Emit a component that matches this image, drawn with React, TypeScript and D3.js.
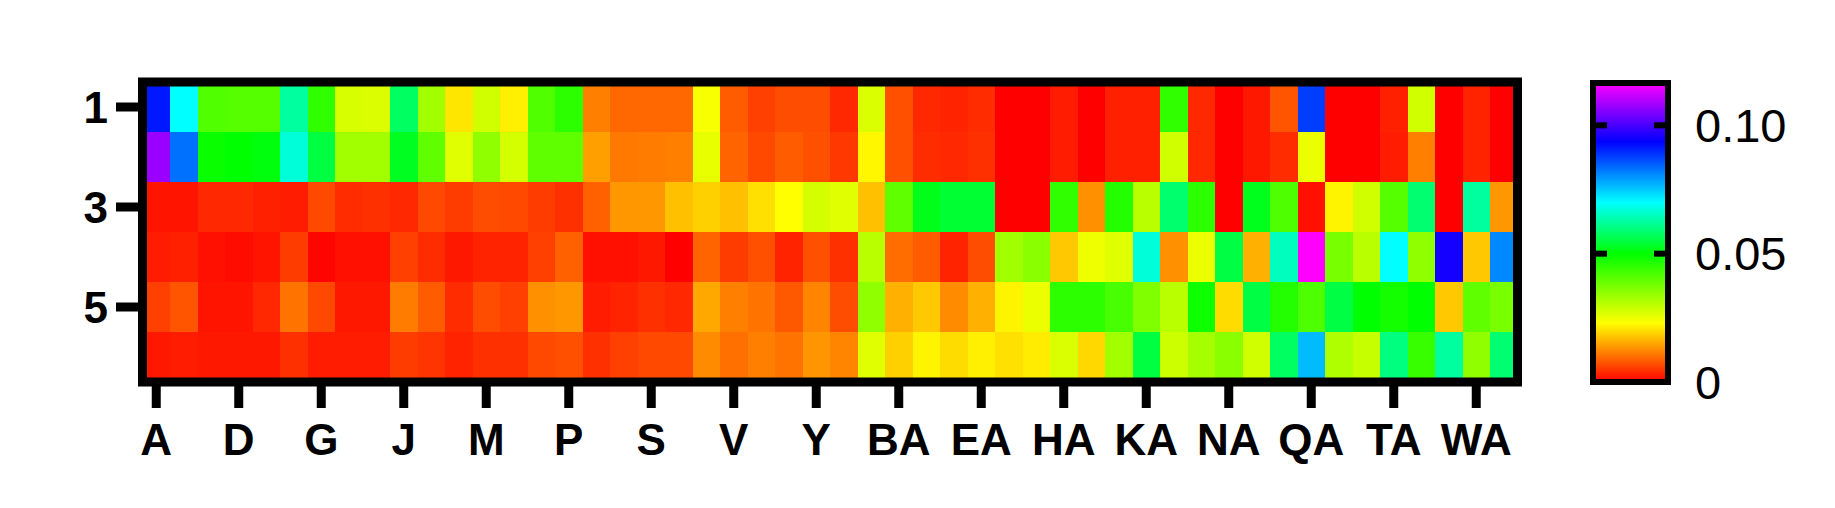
import * as d3 from "d3";

// column titles (A..Z, then AA, BA, CA ...)
const columns = [
  "A", "B", "C", "D", "E", "F", "G", "H", "I", "J", "K", "L", "M",
  "N", "O", "P", "Q", "R", "S", "T", "U", "V", "W", "X", "Y", "Z",
  "AA", "BA", "CA", "DA", "EA", "FA", "GA", "HA", "IA", "JA", "KA", "LA",
  "MA", "NA", "OA", "PA", "QA", "RA", "SA", "TA", "UA", "VA", "WA", "XA",
];
const rows = ["1", "2", "3", "4", "5", "6"];
const rowTicks = ["1", "3", "5"];
const colTicks = ["A", "D", "G", "J", "M", "P", "S", "V", "Y", "BA", "EA", "HA", "KA", "NA", "QA", "TA", "WA"];
const legendTicks = [0, 0.05, 0.1];

const row1 = [
  0.0914, 0.07, 0.0415, 0.041, 0.041, 0.0625, 0.0449, 0.0271, 0.0267, 0.0575,
  0.033, 0.0207, 0.028, 0.0216, 0.0415, 0.0454, 0.0115, 0.0094, 0.0094, 0.0094,
  0.0237, 0.0083, 0.0058, 0.0069, 0.0069, 0.0036, 0.027, 0.0072, 0.0036, 0.0032,
  0.004, 0, 0, 0.0025, 0, 0.0029, 0.0029, 0.0449, 0.0036, 0,
  0.0022, 0.0076, 0.088, 0, 0, 0.0029, 0.028, 0, 0.0032, 0,
];
const row2 = [
  0.1073, 0.0832, 0.049, 0.05, 0.051, 0.067, 0.055, 0.033, 0.033, 0.0525,
  0.0398, 0.0263, 0.0348, 0.0276, 0.0398, 0.0398, 0.0144, 0.0108, 0.0112, 0.0115,
  0.0254, 0.009, 0.0065, 0.0083, 0.0072, 0.005, 0.0223, 0.0072, 0.004, 0.0036,
  0.0043, 0, 0, 0.0025, 0, 0.0029, 0.0029, 0.028, 0.0036, 0,
  0.0022, 0.004, 0.025, 0, 0, 0.0025, 0.0115, 0, 0.0032, 0,
];
const row3 = [
  0.0018, 0.0018, 0.0036, 0.0036, 0.0029, 0.0025, 0.0065, 0.004, 0.0043, 0.0036,
  0.0065, 0.0054, 0.0069, 0.0065, 0.0054, 0.0043, 0.0087, 0.0137, 0.0137, 0.0173,
  0.0188, 0.0173, 0.0202, 0.023, 0.0276, 0.0263, 0.0173, 0.0398, 0.0519, 0.054,
  0.054, 0, 0, 0.0449, 0.013, 0.0462, 0.0303, 0.0585, 0.0454, 0,
  0.0522, 0.0419, 0.0014, 0.022, 0.028, 0.041, 0.0588, 0, 0.0625, 0.0137,
];
const row4 = [
  0.0025, 0.0029, 0.0014, 0.0011, 0.0018, 0.0054, 0.0004, 0.0014, 0.0014, 0.0058,
  0.004, 0.0022, 0.0032, 0.0032, 0.0058, 0.0087, 0.0014, 0.0014, 0.0022, 0,
  0.009, 0.0054, 0.0072, 0.0032, 0.0072, 0.0043, 0.0303, 0.0097, 0.0083, 0.0032,
  0.0069, 0.033, 0.0355, 0.018, 0.0246, 0.0263, 0.067, 0.013, 0.025, 0.0553,
  0.0159, 0.065, 0.1165, 0.0373, 0.0303, 0.07, 0.0348, 0.0954, 0.018, 0.081,
];
const row5 = [
  0.0058, 0.0076, 0.0018, 0.0018, 0.0036, 0.0105, 0.0065, 0.0022, 0.0022, 0.0112,
  0.0083, 0.004, 0.0069, 0.0058, 0.013, 0.0137, 0.0025, 0.0032, 0.0043, 0.0036,
  0.0152, 0.0115, 0.0105, 0.008, 0.0119, 0.0069, 0.0348, 0.0159, 0.018, 0.0126,
  0.0159, 0.022, 0.025, 0.0454, 0.0454, 0.0424, 0.0365, 0.0303, 0.0485, 0.0198,
  0.0553, 0.0462, 0.0419, 0.0553, 0.05, 0.048, 0.05, 0.018, 0.0398, 0.0373,
];
const row6 = [
  0.0022, 0.0025, 0.0022, 0.0022, 0.0022, 0.0043, 0.0025, 0.0025, 0.0025, 0.0054,
  0.0047, 0.0032, 0.0043, 0.0043, 0.0065, 0.0072, 0.0043, 0.0058, 0.0065, 0.0065,
  0.0126, 0.0101, 0.0115, 0.0105, 0.0134, 0.0119, 0.0263, 0.0188, 0.022, 0.0198,
  0.0216, 0.0202, 0.0213, 0.027, 0.0195, 0.033, 0.055, 0.0284, 0.0325, 0.0355,
  0.028, 0.0575, 0.0762, 0.0315, 0.029, 0.06, 0.0441, 0.0625, 0.0348, 0.0588,
];
const values = [row1, row2, row3, row4, row5, row6];

// rainbow lookup, red at 0 up to magenta at the max
const colorStops = [0, 0.023, 0.05, 0.07, 0.0936, 0.1165];
const colorRange = ["#ff0000", "#ffff00", "#00ff00", "#00ffff", "#0000ff", "#ff00ff"];

const font = "'Liberation Sans', Arial, Helvetica, sans-serif";

export default function App() {
  const width = 1835;
  const height = 508;
  const plot = { left: 142.5, right: 1517.5, top: 82, bottom: 382 };
  const bar = { left: 1593, right: 1668, top: 83, bottom: 382 };
  const lw = 9;

  const x = d3.scaleBand().domain(columns).range([plot.left, plot.right]);
  const y = d3.scaleBand().domain(rows).range([plot.top, plot.bottom]);
  const color = d3
    .scaleLinear<string>()
    .domain(colorStops)
    .range(colorRange)
    .clamp(true);
  const maxV = colorStops[colorStops.length - 1];
  const ly = d3.scaleLinear().domain([0, maxV]).range([bar.bottom, bar.top]);

  const cells = values.flatMap((row, r) =>
    row.map((v, c) => ({ r: rows[r], c: columns[c], v }))
  );

  return (
    <svg
      width={width}
      height={height}
      style={{ position: "absolute", left: 0, top: 0, background: "#fff" }}
      fontFamily={font}
    >
      <defs>
        <linearGradient id="rainbow" x1="0" y1="1" x2="0" y2="0">
          {colorStops.map((s, i) => (
            <stop key={i} offset={s / maxV} stopColor={colorRange[i]} />
          ))}
        </linearGradient>
      </defs>

      {/* cells */}
      <g shapeRendering="crispEdges">
        {cells.map((d, i) => (
          <rect
            key={i}
            x={x(d.c)}
            y={y(d.r)}
            width={x.bandwidth() + 0.5}
            height={y.bandwidth() + 0.5}
            fill={color(d.v)}
          />
        ))}
      </g>

      {/* frame */}
      <rect
        x={plot.left}
        y={plot.top}
        width={plot.right - plot.left}
        height={plot.bottom - plot.top}
        fill="none"
        stroke="#000"
        strokeWidth={lw}
      />

      {/* left axis */}
      {rowTicks.map((t) => {
        const cy = (y(t) ?? 0) + y.bandwidth() / 2;
        return (
          <g key={t}>
            <line x1={116} x2={plot.left} y1={cy} y2={cy} stroke="#000" strokeWidth={lw} />
            <text
              x={108}
              y={cy}
              textAnchor="end"
              dominantBaseline="central"
              fontSize={44}
              fontWeight="bold"
            >
              {t}
            </text>
          </g>
        );
      })}

      {/* bottom axis */}
      {colTicks.map((t) => {
        const cx = (x(t) ?? 0) + x.bandwidth() / 2;
        return (
          <g key={t}>
            <line x1={cx} x2={cx} y1={plot.bottom} y2={408} stroke="#000" strokeWidth={lw} />
            <text x={cx} y={455} textAnchor="middle" fontSize={44} fontWeight="bold">
              {t}
            </text>
          </g>
        );
      })}

      {/* colour bar */}
      <rect
        x={bar.left}
        y={bar.top}
        width={bar.right - bar.left}
        height={bar.bottom - bar.top}
        fill="url(#rainbow)"
        stroke="#000"
        strokeWidth={6}
      />
      {legendTicks.map((t) => (
        <g key={t}>
          {t > 0 && (
            <>
              <line x1={bar.left} x2={bar.left + 14} y1={ly(t)} y2={ly(t)} stroke="#000" strokeWidth={6} />
              <line x1={bar.right - 14} x2={bar.right} y1={ly(t)} y2={ly(t)} stroke="#000" strokeWidth={6} />
            </>
          )}
          <text x={1695} y={ly(t)} dominantBaseline="central" fontSize={47}>
            {t === 0 ? "0" : d3.format(".2f")(t)}
          </text>
        </g>
      ))}
    </svg>
  );
}
